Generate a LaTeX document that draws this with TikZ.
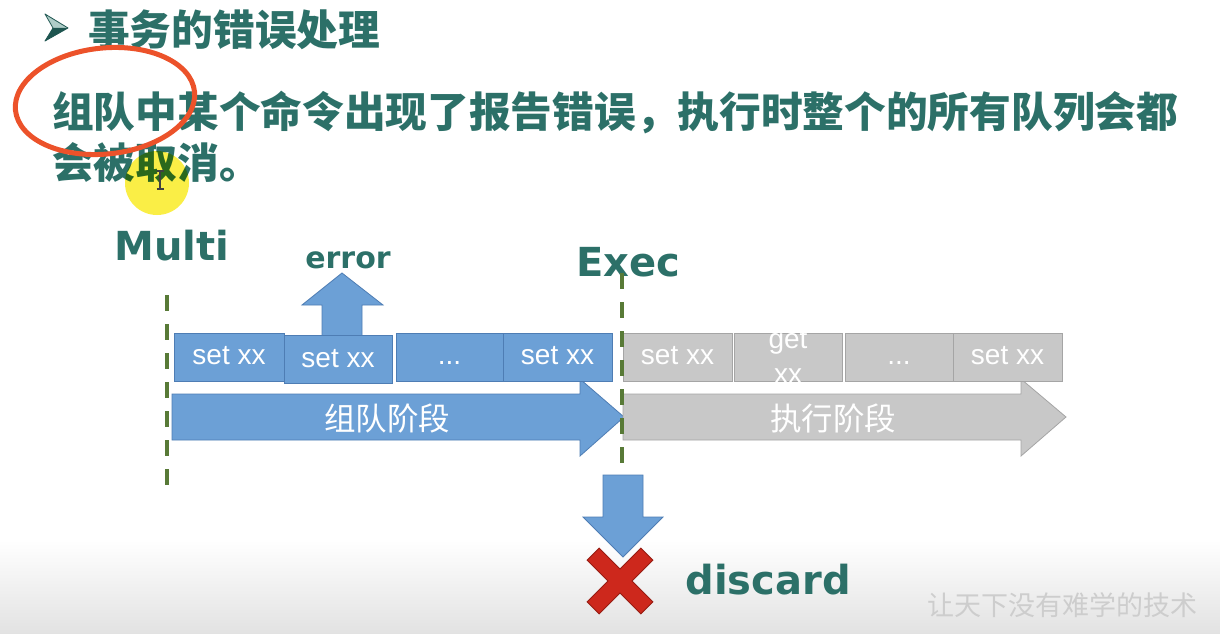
\documentclass[tikz,border=0pt]{standalone}
\usepackage{fontspec}
\setmainfont{Liberation Sans}
\newfontfamily\cjk{Noto Sans CJK SC}
\newfontfamily\verd{DejaVu Sans}

\definecolor{tealtxt}{RGB}{44,112,104}
\definecolor{tealdark}{RGB}{30,85,80}
\definecolor{tealpale}{RGB}{175,205,200}
\definecolor{qblue}{RGB}{108,160,214}
\definecolor{qblueline}{RGB}{78,125,180}
\definecolor{qgray}{RGB}{200,200,200}
\definecolor{qgrayline}{RGB}{165,165,165}
\definecolor{markgreen}{RGB}{88,122,55}
\definecolor{xred}{RGB}{205,40,28}
\definecolor{xredline}{RGB}{150,28,18}
\definecolor{ringred}{RGB}{236,82,42}
\definecolor{hilite}{RGB}{250,238,70}
\definecolor{bggray}{RGB}{226,226,226}
\definecolor{wmark}{RGB}{205,205,205}

\begin{document}
\begin{tikzpicture}[x=1pt,y=-1pt,
  headtxt/.style={text=tealtxt, inner sep=0pt, anchor=west,
    font=\cjk\bfseries\fontsize{41.7}{50}\selectfont},
  labeltxt/.style={text=tealtxt, inner sep=0pt,
    font=\verd\bfseries\fontsize{40}{48}\selectfont},
  cmdbox/.style={draw=qblueline, fill=qblue, line width=1pt, inner sep=0pt,
    minimum height=48pt, text height=21pt, text depth=6pt, text=white,
    font=\fontsize{28}{35}\selectfont},
  donebox/.style={cmdbox, draw=qgrayline, fill=qgray},
  phasetxt/.style={text=white, inner sep=0pt,
    font=\cjk\fontsize{31.5}{36}\selectfont},
  bluearrow/.style={fill=qblue, draw=qblueline, line width=0.8pt},
  grayarrow/.style={fill=qgray, draw=qgrayline, line width=0.8pt},
  marker/.style={draw=markgreen, line width=4pt, dash pattern=on 16pt off 13pt},
]
\useasboundingbox (0,0) rectangle (1220,634);
\fill[white] (0,0) rectangle (1220,634);
\shade[top color=white, bottom color=bggray] (0,540) rectangle (1220,634);

% heading with bullet
\fill[tealpale] (45,14) -- (68,28) -- (53,28) -- cycle;
\fill[tealdark] (53,28) -- (68,28) -- (45,41) -- cycle;
\draw[tealdark, line width=0.8pt, line join=round] (45,14) -- (68,28) -- (45,41) -- (53,28) -- cycle;
\node[headtxt] (title) at (88,30) {事务的错误处理};

% explanatory text
\node[headtxt] (line1) at (52,113) {组队中某个命令出现了报告错误，执行时整个的所有队列会都};
\node[headtxt] (line2) at (52,163) {会被取消。};

% cursor highlight
\begin{scope}[blend mode=multiply]
  \fill[hilite] (157,183) circle [radius=32];
\end{scope}
\draw[black!75, line width=1.3pt] (160,171) -- (160,189)
  (156.5,171) -- (163.5,171) (156.5,189) -- (163.5,189);

% ring around the first words
\draw[ringred, line width=5pt, rotate around={6:(105,101)}]
  (105,101) ellipse [x radius=90, y radius=53];

% phase labels
\node[labeltxt] (multi) at (172,246) {Multi};
\node[labeltxt] (exec) at (628,262) {Exec};
\node[labeltxt, font=\verd\bfseries\fontsize{30}{36}\selectfont] (err) at (348,260) {error};
\node[labeltxt] (discard) at (768,580) {discard};

% phase arrows
\path[bluearrow] (172,394) -- (580,394) -- (580,379) -- (624,417) -- (580,456)
  -- (580,440) -- (172,440) -- cycle;
\node[phasetxt] (queue) at (387,418) {组队阶段};
\path[grayarrow] (623,394) -- (1021,394) -- (1021,379) -- (1066,417) -- (1021,456)
  -- (1021,440) -- (623,440) -- cycle;
\node[phasetxt] (run) at (833,418) {执行阶段};

% error arrow rising from the faulty command
\path[bluearrow] (322,338) -- (322,305) -- (302,305) -- (342,273) -- (383,305)
  -- (362,305) -- (362,338) -- cycle;

% queued commands
\node[cmdbox, minimum width=110pt] (q1) at (229,357) {set xx};
\node[cmdbox, minimum width=108pt] (q2) at (338,359.5) {set xx};
\node[cmdbox, minimum width=107pt] (q3) at (449.5,357) {...};
\node[cmdbox, minimum width=109pt] (q4) at (557.5,357) {set xx};

% commands that would have run
\node[donebox, minimum width=109pt] (e1) at (677.5,357) {set xx};
\node[donebox, minimum width=108pt] (e2) at (788,357) {};
\node[donebox, minimum width=108pt] (e3) at (899,357) {...};
\node[donebox, minimum width=109pt] (e4) at (1007.5,357) {set xx};
\node[text=white, inner sep=0pt, align=center, font=\fontsize{28}{35}\selectfont]
  (e2t) at (e2.center) {get\\xx};

% discard arrow and cross
\path[bluearrow] (603,475) -- (643,475) -- (643,517) -- (663,517) -- (623,557)
  -- (583,517) -- (603,517) -- cycle;
\begin{scope}[shift={(620,581)}, rotate=45]
  \path[fill=xred, draw=xredline, line width=1pt, line join=miter]
    (8.5,8.5) -- (38,8.5) -- (38,-8.5) -- (8.5,-8.5) -- (8.5,-38) -- (-8.5,-38)
    -- (-8.5,-8.5) -- (-38,-8.5) -- (-38,8.5) -- (-8.5,8.5) -- (-8.5,38)
    -- (8.5,38) -- cycle;
\end{scope}

% boundary markers
\coordinate (mtop) at (167,295);
\coordinate (mbot) at (167,490);
\coordinate (etop) at (622,273);
\coordinate (ebot) at (622,466);
\draw[marker] (mtop) -- (mbot);
\draw[marker] (etop) -- (ebot);

% signature
\node[text=wmark, inner sep=0pt, font=\cjk\fontsize{27}{30}\selectfont]
  (sig) at (1062,605) {让天下没有难学的技术};
\end{tikzpicture}
\end{document}
